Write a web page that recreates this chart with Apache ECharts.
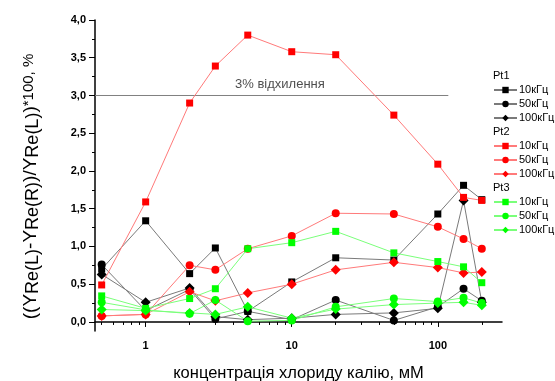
<!DOCTYPE html>
<html>
<head>
<meta charset="utf-8">
<script src="https://cdn.jsdelivr.net/npm/echarts@6/dist/echarts.min.js"></script>
<style>
  html, body { margin: 0; padding: 0; background: #fff; }
  #chart { width: 555px; height: 381px; }
</style>
</head>
<body>
<div id="chart"></div>
<script>
// KCl concentration, mM
const concentrations = [0.5, 1, 2, 3, 5, 10, 20, 50, 100, 150, 200];

// Relative deviation, %, per electrode and frequency
const pt1_10k  = [0.70, 1.34, 0.64, 0.98, 0.14, 0.53, 0.85, 0.82, 1.43, 1.81, 1.62];
const pt1_50k  = [0.76, 0.15, 0.43, 0.04, 0.14, 0.03, 0.29, 0.02, 0.20, 0.44, 0.28];
const pt1_100k = [0.63, 0.26, 0.45, 0.07, 0.03, 0.05, 0.10, 0.12, 0.18, 1.61, 0.26];
const pt2_10k  = [0.49, 1.59, 2.90, 3.39, 3.80, 3.58, 3.54, 2.74, 2.09, 1.65, 1.61];
const pt2_50k  = [0.08, 0.10, 0.75, 0.69, 0.97, 1.14, 1.44, 1.43, 1.26, 1.10, 0.97];
const pt2_100k = [0.08, 0.10, 0.40, 0.28, 0.385, 0.50, 0.69, 0.79, 0.72, 0.65, 0.66];
const pt3_10k  = [0.345, 0.18, 0.31, 0.44, 0.97, 1.05, 1.20, 0.915, 0.80, 0.73, 0.52];
const pt3_50k  = [0.26, 0.16, 0.11, 0.29, 0.01, 0.02, 0.20, 0.31, 0.27, 0.32, 0.25];
const pt3_100k = [0.165, 0.15, 0.12, 0.10, 0.20, 0.05, 0.17, 0.23, 0.25, 0.26, 0.22];

// 3 % threshold line
const thresholdValue = 3.0;
const thresholdSpan = [0.45, 118];
const thresholdText = '3% відхилення';

// Axis ticks
const xMajorTicks = [1, 10, 100];
const xMinorTicks = [0.5, 0.6, 0.7, 0.8, 0.9, 2, 3, 4, 5, 6, 7, 8, 9, 20, 30, 40, 50, 60, 70, 80, 90, 200];
const yMajorTicks = [0, 0.5, 1.0, 1.5, 2.0, 2.5, 3.0, 3.5, 4.0];
const yMinorTicks = [0.25, 0.75, 1.25, 1.75, 2.25, 2.75, 3.25, 3.75];

const groups = ['Pt1', 'Pt2', 'Pt3'];
const freqs = ['10кГц', '50кГц', '100кГц'];

const FONT = 'Arial, "Liberation Sans", sans-serif';

const palette = {
  Pt1: { mark: '#000000', line: '#7a7a7a' },
  Pt2: { mark: '#ff0000', line: '#ff7a7a' },
  Pt3: { mark: '#00ff00', line: '#7aff7a' }
};
const symbols = [
  { symbol: 'rect', size: 7 },
  { symbol: 'circle', size: 8 },
  { symbol: 'diamond', size: 10 }
];

const seriesValues = {
  Pt1: [pt1_10k, pt1_50k, pt1_100k],
  Pt2: [pt2_10k, pt2_50k, pt2_100k],
  Pt3: [pt3_10k, pt3_50k, pt3_100k]
};

const series = [];
groups.forEach(g => {
  freqs.forEach((f, i) => {
    series.push({
      name: g + ' ' + f,
      type: 'line',
      xAxisIndex: 0,
      yAxisIndex: 0,
      data: concentrations.map((c, k) => [c, seriesValues[g][i][k]]),
      symbol: symbols[i].symbol,
      symbolSize: symbols[i].size,
      itemStyle: { color: palette[g].mark },
      lineStyle: { color: palette[g].line, width: 1 },
      emphasis: { disabled: true },
      animation: false
    });
  });
});

// Threshold line with its caption
series.push({
  name: 'threshold',
  type: 'line',
  xAxisIndex: 0,
  yAxisIndex: 0,
  data: [[thresholdSpan[0], thresholdValue], [thresholdSpan[1], thresholdValue]],
  showSymbol: false,
  symbol: 'none',
  lineStyle: { color: '#808080', width: 1 },
  z: 1,
  animation: false,
  silent: true
});
series.push({
  name: 'thresholdCaption',
  type: 'scatter',
  xAxisIndex: 0,
  yAxisIndex: 0,
  data: [[8.3, thresholdValue]],
  symbolSize: 0,
  label: {
    show: true,
    position: 'top',
    distance: 5,
    formatter: thresholdText,
    color: '#222',
    fontFamily: FONT,
    fontSize: 13
  },
  animation: false,
  silent: true
});

const legendTops = [84, 140, 196];
const legends = groups.map((g, gi) => ({
  orient: 'vertical',
  left: 493,
  top: legendTops[gi],
  itemWidth: 23,
  itemHeight: 8,
  itemGap: 2,
  padding: 0,
  data: freqs.map(f => g + ' ' + f),
  formatter: name => name.split(' ')[1],
  textStyle: { fontFamily: FONT, fontSize: 11, color: '#000', lineHeight: 12, padding: [0, 0, 0, -3] },
  selectedMode: false
}));

const fmt = v => (Math.round(v * 10) / 10).toFixed(1).replace('.', ',');

const axisLineStyle = { color: '#000', width: 1.5 };

const option = {
  backgroundColor: '#fff',
  animation: false,
  grid: { left: 95, right: 53, top: 20, bottom: 50, outerBoundsMode: 'none', containLabel: false },
  xAxis: [
    {
      type: 'log',
      logBase: 10,
      min: 0.45,
      max: 275,
      position: 'bottom',
      axisLine: { show: true, lineStyle: axisLineStyle },
      axisTick: { show: true, length: 5, customValues: xMajorTicks, lineStyle: { color: '#000', width: 1 } },
      axisLabel: {
        customValues: xMajorTicks,
        fontFamily: FONT, fontSize: 11, fontWeight: 'bold', color: '#000', margin: 9,
        formatter: v => String(v)
      },
      splitLine: { show: false },
      name: 'концентрація хлориду калію, мМ',
      nameLocation: 'middle',
      nameGap: 34,
      nameTextStyle: { fontFamily: FONT, fontSize: 16.5, color: '#000' }
    },
    {
      type: 'log',
      logBase: 10,
      min: 0.45,
      max: 275,
      position: 'bottom',
      axisLine: { show: false },
      axisTick: { show: true, length: 3, customValues: xMinorTicks, lineStyle: { color: '#000', width: 1 } },
      axisLabel: { show: false },
      splitLine: { show: false }
    }
  ],
  yAxis: [
    {
      type: 'value',
      min: -0.12,
      max: 4.0,
      position: 'left',
      axisLine: { show: true, lineStyle: axisLineStyle },
      axisTick: { show: true, length: 6, customValues: yMajorTicks, lineStyle: { color: '#000', width: 1 } },
      axisLabel: {
        customValues: yMajorTicks,
        fontFamily: FONT, fontSize: 11, fontWeight: 'bold', color: '#000', margin: 9,
        formatter: v => fmt(v)
      },
      splitLine: { show: false },
      name: '{m|((Y}{s|Re(L)}{m|-Y}{s|Re(R)}{m|)/Y}{s|Re(L)}{m|)}{p|*100, %}',
      nameLocation: 'middle',
      nameRotate: 90,
      nameGap: 53,
      nameTextStyle: {
        fontFamily: FONT,
        color: '#000',
        padding: [0, 22, 0, 0],
        rich: {
          m: { fontFamily: FONT, fontSize: 19, lineHeight: 21, verticalAlign: 'top', color: '#000' },
          s: { fontFamily: FONT, fontSize: 18, lineHeight: 20, verticalAlign: 'bottom', color: '#000' },
          p: { fontFamily: FONT, fontSize: 15, lineHeight: 16, verticalAlign: 'top', color: '#000' }
        }
      }
    },
    {
      type: 'value',
      min: -0.12,
      max: 4.0,
      position: 'left',
      axisLine: { show: false },
      axisTick: { show: true, length: 3, customValues: yMinorTicks, lineStyle: { color: '#000', width: 1 } },
      axisLabel: { show: false },
      splitLine: { show: false }
    }
  ],
  legend: legends,
  graphic: groups.map((g, gi) => ({
    type: 'text',
    left: 493,
    top: legendTops[gi] - 14,
    style: { text: g, fontFamily: FONT, fontSize: 11, fill: '#000' }
  })),
  series: series
};

const chart = echarts.init(document.getElementById('chart'), null, { renderer: 'canvas' });
chart.setOption(option);
</script>
</body>
</html>
